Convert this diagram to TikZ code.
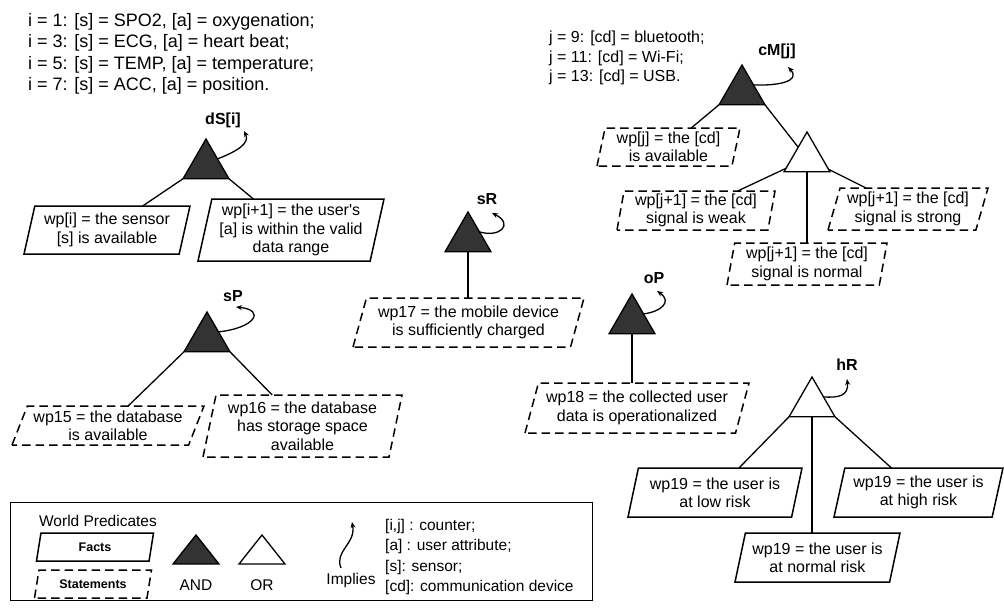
\documentclass[tikz,border=0pt]{standalone}
\usepackage{fontspec}
\setmainfont{Liberation Sans}
\usetikzlibrary{shapes.geometric,arrows.meta}
\definecolor{andfill}{HTML}{333333}
\begin{document}
\begin{tikzpicture}[x=1pt,y=-1pt,
  txt/.style={font=\fontsize{16}{18.4}\selectfont, inner sep=0pt, align=center},
  ltxt/.style={font=\fontsize{15.5}{17.8}\selectfont, inner sep=0pt, align=center},
  para/.style={trapezium, trapezium left angle=#1, trapezium right angle={180-#1}, trapezium stretches body, draw, line width=1.5pt, inner sep=0pt, outer sep=0pt, align=center, font=\fontsize{16}{18.4}\selectfont},
  fact/.style={para=#1},
  stmt/.style={para=#1, dash pattern=on 8.5pt off 5pt},
  andg/.style={regular polygon, regular polygon sides=3, minimum size=53pt, inner sep=0pt, outer sep=0pt, draw, fill=andfill, line width=1.3pt},
  org/.style={andg, fill=white},
  lbl/.style={font=\bfseries\fontsize{16}{18}\selectfont, inner sep=0pt},
  conn/.style={line width=1.3pt},
  impl/.style={line width=1.3pt, -{Stealth[length=6pt,width=5pt]}},
  info/.style={font=\fontsize{18}{21.5}\selectfont, align=left, inner sep=0pt, anchor=west},
]
\useasboundingbox (0,0) rectangle (1004,608);

% top texts
\node[info] (itext) at (28,54) {i = 1: [s] = SPO2, [a] = oxygenation;\\i = 3: [s] = ECG, [a] = heart beat;\\i = 5: [s] = TEMP, [a] = temperature;\\i = 7: [s] = ACC, [a] = position.};
\node[info, font=\fontsize{16}{19.2}\selectfont] (jtext) at (549,58) {j = 9: [cd] = bluetooth;\\j = 11: [cd] = Wi-Fi;\\j = 13: [cd] = USB.};

% dS[i]
\node[andg] (ds) at (206,165.5) {};
\node[lbl] (dsl) at (223,120) {dS[i]};
\coordinate (dst) at (244,131);
\draw[impl] (ds.side 3) .. controls (238,151) and (250,143) .. (dst);
\node[fact=72, minimum width=166pt, minimum height=48pt] (wpi) at (107,230) {wp[i] = the sensor\\{}[s] is available};
\node[fact=75, minimum width=186pt, minimum height=62pt] (wpi1) at (291,230) {wp[i+1] = the user\textquotesingle s\\{}[a] is within the valid\\data range};
\draw[conn] (ds.corner 2) -- (wpi);
\draw[conn] (ds.corner 3) -- (wpi1);

% sP
\node[andg] (sp) at (207,338.5) {};
\node[lbl] (spl) at (233,296) {sP};
\coordinate (spt) at (236,307);
\draw[impl] (sp.side 3) .. controls (255,328) and (266,310) .. (spt);
\node[stmt=63, minimum width=192pt, minimum height=39pt] (wp15) at (108,425.5) {wp15 = the database\\is available};
\node[stmt=75, minimum width=199pt, minimum height=62pt] (wp16) at (302.5,426) {wp16 = the database\\has storage space\\available};
\draw[conn] (sp.corner 2) -- (wp15);
\draw[conn] (sp.corner 3) -- (wp16);

% sR
\node[andg] (sr) at (468,238.5) {};
\node[lbl] (srl) at (487,199) {sR};
\coordinate (srt) at (492,213);
\draw[impl] (sr.side 3) .. controls (500,238) and (514,224) .. (srt);
\node[stmt=68, minimum width=231pt, minimum height=49pt] (wp17) at (468.5,322.5) {wp17 = the mobile device\\is sufficiently charged};
\draw[conn] (sr.side 2) -- (sr.side 2 |- wp17.north);

% oP
\node[andg] (op) at (632,320.5) {};
\node[lbl] (opl) at (654,278) {oP};
\coordinate (opt) at (657,291);
\draw[impl] (op.side 3) .. controls (660,312) and (673,302) .. (opt);
\node[stmt=68, minimum width=224pt, minimum height=50pt] (wp18) at (637,408) {wp18 = the collected user\\data is operationalized};
\draw[conn] (op.side 2) -- (op.side 2 |- wp18.north);

% cM[j]
\node[andg] (cm) at (742,91.5) {};
\node[lbl] (cml) at (777,51) {cM[j]};
\coordinate (cmt) at (788,67);
\draw[impl] (cm.side 3) .. controls (775,86) and (802,82) .. (cmt);
\node[stmt=75, minimum width=143pt, minimum height=38pt] (wpj) at (668.5,147) {wp[j] = the [cd]\\is available};
\node[org] (orj) at (807,158.5) {};
\draw[conn] (cm.corner 2) -- (wpj);
\draw[conn] (cm.corner 3) -- (orj);
\node[stmt=78, minimum width=158pt, minimum height=39pt] (weak) at (696,210.5) {wp[j+1] = the [cd]\\signal is weak};
\node[stmt=70, minimum width=160pt, minimum height=42pt] (strong) at (908,209) {wp[j+1] = the [cd]\\signal is strong};
\node[stmt=77, minimum width=160pt, minimum height=42pt] (nj) at (807,264) {wp[j+1] = the [cd]\\signal is normal};
\draw[conn] (orj) -- (weak);
\draw[conn] (orj) -- (strong);
\draw[conn] (orj.side 2) -- (orj.side 2 |- nj.north);

% hR
\node[org] (hr) at (812,403.5) {};
\node[lbl] (hrl) at (847,365) {hR};
\coordinate (hrt) at (847,379);
\draw[impl] (hr.side 3) .. controls (838,398) and (849,396) .. (hrt);
\node[fact=71, minimum width=174pt, minimum height=49pt] (low) at (715,492.5) {wp19 = the user is\\at low risk};
\node[fact=72, minimum width=169pt, minimum height=49pt] (high) at (918.5,492.5) {wp19 = the user is\\at high risk};
\node[fact=71, minimum width=165pt, minimum height=49pt] (nh) at (817.5,557.5) {wp19 = the user is\\at normal risk};
\draw[conn] (hr.corner 2) -- (low);
\draw[conn] (hr.corner 3) -- (high);
\draw[conn] (hr.side 2) -- (hr.side 2 |- nh.north);

% legend
\node[draw, line width=1.3pt, minimum width=582pt, minimum height=98pt, inner sep=0pt, anchor=north west] (leg) at (10,502) {};
\node[ltxt] (wpred) at (98,521) {World Predicates};
\node[fact=63, minimum width=117pt, minimum height=28pt, font=\bfseries\fontsize{12.5}{14}\selectfont] (lfact) at (95,547) {Facts};
\node[stmt=63, minimum width=117pt, minimum height=28pt, font=\bfseries\fontsize{12.5}{14}\selectfont] (lstmt) at (93,584) {Statements};
\draw[line width=1.3pt, fill=andfill] (196,535) -- (173,564) -- (219,564) -- cycle;
\node[ltxt] (land) at (196,585) {AND};
\draw[line width=1.3pt, fill=white] (262,535) -- (239,564) -- (285,564) -- cycle;
\node[ltxt] (lor) at (262,585) {OR};
\coordinate (li0) at (341,568);
\coordinate (li1) at (352,522);
\draw[impl] (li0) .. controls (334,551) and (356,544) .. (li1);
\node[ltxt] (limp) at (351,580) {Implies};
\node[font=\fontsize{15.5}{20.3}\selectfont, align=left, inner sep=0pt, anchor=west] (lkey) at (385,557) {[i,j] : counter;\\{}[a] : user attribute;\\{}[s]: sensor;\\{}[cd]: communication device};
\end{tikzpicture}
\end{document}
